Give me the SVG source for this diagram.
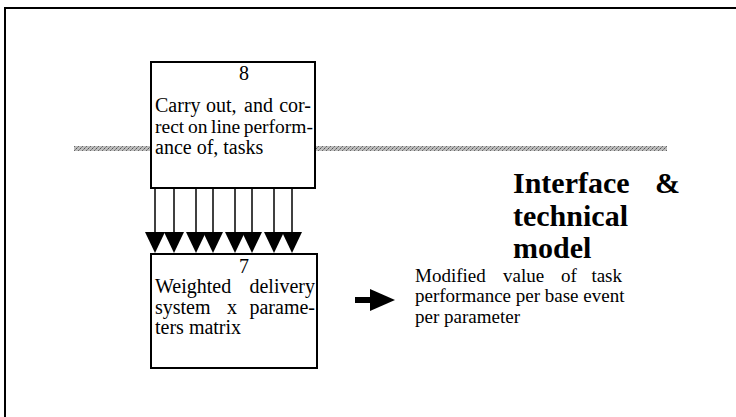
<svg xmlns="http://www.w3.org/2000/svg" width="736" height="417" viewBox="0 0 736 417">
<style>
.box{fill:#fff;stroke:#000;stroke-width:2}
.t{font-family:"Liberation Serif","Times New Roman",serif;font-size:20px;fill:#000}
.s{font-family:"Liberation Serif","Times New Roman",serif;font-size:19px;fill:#000}
.b{font-family:"Liberation Serif","Times New Roman",serif;font-size:30px;font-weight:bold;fill:#000}
.ln{stroke:#000;stroke-width:1.5}
.e{text-anchor:end}
</style>
<defs>
<pattern id="dots" width="4" height="4" patternUnits="userSpaceOnUse">
<rect width="4" height="4" fill="#bdbdbd"/>
<rect width="1" height="1" fill="#555"/>
<rect x="2" y="2" width="1" height="1" fill="#666"/>
<rect x="1" y="3" width="1" height="1" fill="#888"/>
<rect x="3" y="1" width="1" height="1" fill="#888"/>
</pattern>
</defs>
<rect width="736" height="417" fill="#fff"/>
<g id="frame">
<path d="M5,417 V8 H736" fill="none" stroke="#000" stroke-width="2"/>
</g>
<g id="band">
<rect x="74" y="146" width="77" height="5" fill="url(#dots)"/>
<rect x="315" y="146" width="352" height="5" fill="url(#dots)"/>
</g>
<g id="node8">
<rect class="box" x="151" y="62" width="164" height="126"/>
<text class="t" x="244" y="80" text-anchor="middle">8</text>
<text class="t" y="112"><tspan x="155">Carry</tspan><tspan x="206">out,</tspan><tspan x="244">and</tspan><tspan x="311" class="e">cor-</tspan></text>
<text class="t" y="133" style="font-size:19.5px"><tspan x="155">rect</tspan><tspan x="188">on</tspan><tspan x="211">line</tspan><tspan x="313" class="e">perform-</tspan></text>
<text class="t" x="155" y="154">ance of, tasks</text>
</g>
<g id="connectors">
<g class="ln">
<line x1="155" y1="188" x2="155" y2="234"/>
<line x1="174" y1="188" x2="174" y2="234"/>
<line x1="196" y1="188" x2="196" y2="234"/>
<line x1="213" y1="188" x2="213" y2="234"/>
<line x1="235" y1="188" x2="235" y2="234"/>
<line x1="252" y1="188" x2="252" y2="234"/>
<line x1="274" y1="188" x2="274" y2="234"/>
<line x1="292" y1="188" x2="292" y2="234"/>
</g>
<g fill="#000">
<polygon points="145,232 165,232 155,253"/>
<polygon points="164,232 184,232 174,253"/>
<polygon points="186,232 206,232 196,253"/>
<polygon points="203,232 223,232 213,253"/>
<polygon points="225,232 245,232 235,253"/>
<polygon points="242,232 262,232 252,253"/>
<polygon points="264,232 284,232 274,253"/>
<polygon points="282,232 302,232 292,253"/>
</g>
<g id="out-arrow" fill="#000">
<rect x="355" y="297" width="17" height="6"/>
<polygon points="370,289 395,300 370,311"/>
</g>
</g>
<g id="node7">
<rect class="box" x="151" y="254" width="166" height="114"/>
<text class="t" x="244" y="273" text-anchor="middle">7</text>
<text class="t" y="293"><tspan x="155">Weighted</tspan><tspan x="315" class="e">delivery</tspan></text>
<text class="t" y="314"><tspan x="155">system</tspan><tspan x="227">x</tspan><tspan x="315" class="e">parame-</tspan></text>
<text class="t" x="155" y="334">ters matrix</text>
</g>
<g id="output">
<text class="s" y="282"><tspan x="415">Modified</tspan><tspan x="503">value</tspan><tspan x="561">of</tspan><tspan x="622" class="e">task</tspan></text>
<text class="s" x="415" y="302">performance per base event</text>
<text class="s" x="415" y="323">per parameter</text>
</g>
<g id="title">
<text class="b" x="513" y="193">Interface<tspan x="655">&amp;</tspan></text>
<text class="b" x="513" y="226">technical</text>
<text class="b" x="513" y="258">model</text>
</g>
</svg>
